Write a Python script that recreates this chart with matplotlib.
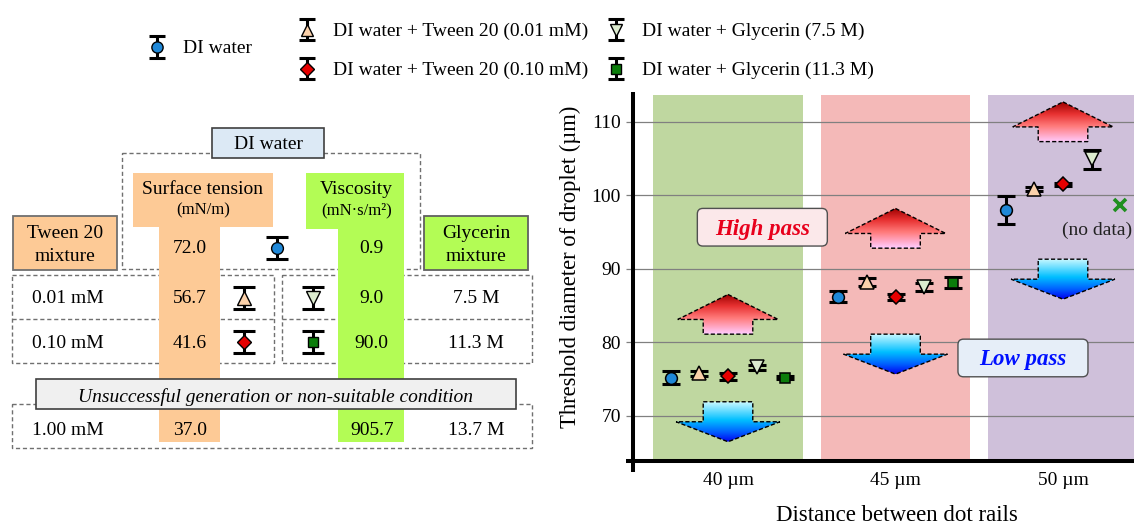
import numpy as np
import matplotlib
matplotlib.use('Agg')
import matplotlib.pyplot as plt
from matplotlib.patches import Rectangle, Polygon, FancyBboxPatch
from matplotlib.colors import LinearSegmentedColormap
from matplotlib.offsetbox import AnnotationBbox, DrawingArea

plt.rcParams['font.family'] = ['Liberation Serif', 'DejaVu Serif']

# ---- data -------------------------------------------------------------
rails = ['40 µm', '45 µm', '50 µm']
names = ['DI water', 'DI water + Tween 20 (0.01 mM)', 'DI water + Tween 20 (0.10 mM)',
         'DI water + Glycerin (7.5 M)', 'DI water + Glycerin (11.3 M)']
di_water = [75.2, 86.2, 98.0]
di_water_err = [0.86, 0.77, 1.85]
tween_001 = [75.8, 88.15, 100.85]
tween_001_err = [0.35, 0.55, 0.32]
tween_010 = [75.4, 86.1, 101.5]
tween_010_err = [0.48, 0.41, 0.18]
glycerin_75 = [76.6, 87.55, 104.9]
glycerin_75_err = [0.36, 0.57, 1.27]
glycerin_113 = [75.2, 88.1, np.nan]
glycerin_113_err = [0.18, 0.75, np.nan]
no_data_y = 98.7          # where the missing 50 um / 11.3 M point is marked

high_pass_tip = [86.5, 98.2, 112.7]   # tip of the "high pass" arrows
low_pass_top = [71.9, 81.1, 91.3]     # top of the "low pass" arrows

# table of the liquids
water_tension, water_visc = '72.0', '0.9'
tween_conc = ['0.01 mM', '0.10 mM', '1.00 mM']
surface_tension = ['56.7', '41.6', '37.0']
viscosity = ['9.0', '90.0', '905.7']
glycerin_conc = ['7.5 M', '11.3 M', '13.7 M']

series = [di_water, tween_001, tween_010, glycerin_75, glycerin_113]
errors = [di_water_err, tween_001_err, tween_010_err, glycerin_75_err, glycerin_113_err]
styles = [('o', '#1f88d8', 8.5), ('^', '#fbd1aa', 9.5), ('D', '#e60000', 7.0),
          ('v', '#dcebcf', 9.5), ('s', '#0b7d0b', 7.0)]
band_colors = ['#bfd7a0', '#f4b9b8', '#cfc0da']

W, H = 1134, 524
fig = plt.figure(figsize=(W / 100, H / 100), dpi=100)

# background axes in pixel units for the table and the legend
bg = fig.add_axes([0, 0, 1, 1])
bg.set_xlim(0, W)
bg.set_ylim(H, 0)
bg.axis('off')

ax = fig.add_axes([633.3 / W, (H - 461.3) / H, (W - 633.3) / W, (461.3 - 92) / H])

# ---- main chart -------------------------------------------------------
x = np.arange(len(rails))
ax.bar(x, 113.63 - 63.8, bottom=63.8, width=0.892, color=band_colors, zorder=0)
ax.yaxis.grid(True, color='#808080', lw=0.9)

offs = np.array([-2, -1, 0, 1, 2]) * 0.171
for i in range(5):
    m, c, ms = styles[i]
    ax.errorbar(x + offs[i], series[i], yerr=errors[i], fmt='none', ecolor='k',
                elinewidth=2.2, capsize=6.7, capthick=2.2, zorder=5)
    ax.plot(x + offs[i], series[i], ls='none', marker=m, ms=ms, mfc=c, mec='k',
            mew=1.1, zorder=6)
ax.plot(x[2] + offs[4], no_data_y, ls='none', marker='x', ms=9, mew=2.6,
        color='#1f8f1f', zorder=6)
ax.text(2.203, 95.27, '(no data)', ha='center', va='center', fontsize=14, color='#222222')

up_cmap = LinearSegmentedColormap.from_list(
    'up', [(0, '#9c0000'), (0.3, '#e83232'), (0.6, '#ff7a7a'), (1, '#ffccff')])
down_cmap = LinearSegmentedColormap.from_list(
    'down', [(0, '#c8f8ff'), (0.45, '#00bfff'), (0.75, '#0060ff'), (1, '#0000f0')])
grad = np.linspace(0, 1, 256).reshape(-1, 1)


def arrow(c, y0, up):
    if up:
        wing, base = y0 - 3.4, y0 - 5.4
        verts = [(c, y0), (c + 0.30, wing), (c + 0.148, wing), (c + 0.148, base),
                 (c - 0.148, base), (c - 0.148, wing), (c - 0.30, wing)]
        top, bot, cmap = y0, base, up_cmap
    else:
        wing, tip = y0 - 2.72, y0 - 5.44
        verts = [(c - 0.148, y0), (c + 0.148, y0), (c + 0.148, wing), (c + 0.31, wing),
                 (c, tip), (c - 0.31, wing), (c - 0.148, wing)]
        top, bot, cmap = y0, tip, down_cmap
    poly = Polygon(verts, closed=True, fc='none', ec='k', lw=1.0,
                   ls=(0, (3, 1.6)), zorder=4)
    ax.add_patch(poly)
    im = ax.imshow(grad, cmap=cmap, aspect='auto', origin='upper',
                   extent=[c - 0.32, c + 0.32, bot, top], zorder=3)
    im.set_clip_path(poly)


for i in range(3):
    arrow(x[i], high_pass_tip[i], True)
    arrow(x[i], low_pass_top[i], False)


def label_box(xc, yc, text, fc, tc):
    da = DrawingArea(93.6, 27.1, 0, 0, clip=False)
    da.add_artist(FancyBboxPatch((0, 0), 93.6, 27.1, boxstyle='round,pad=0,rounding_size=4',
                                 fc=fc, ec='#505050', lw=1.0))
    ab = AnnotationBbox(da, (xc, yc), xycoords='data', frameon=False, pad=0,
                        box_alignment=(0.5, 0.5), zorder=7)
    ax.add_artist(ab)
    ax.text(xc, yc - 0.25, text, ha='center', va='center', fontsize=16.5, color=tc,
            fontweight='bold', fontstyle='italic', zorder=8)


label_box(0.205, 95.65, 'High pass', '#fbe8ea', '#e8001c')
label_box(1.761, 77.86, 'Low pass', '#e6eef8', '#0010ff')

ax.set_xlim(-0.5654, 2.4239)
ax.set_ylim(63.8, 114.05)
ax.set_xticks(x, rails)
ax.set_yticks([70, 80, 90, 100, 110])
ax.tick_params(axis='y', direction='out', length=5, width=0.9, color='#808080', pad=4,
               labelsize=14)
ax.tick_params(axis='x', length=0, pad=8, labelsize=14)
for s in ax.spines.values():
    s.set_visible(False)
ax.plot([0, 0], [-0.029, 1], transform=ax.transAxes, color='k', lw=2.9,
        clip_on=False, solid_capstyle='butt', zorder=9)
ax.plot([-0.0146, 1], [0, 0], transform=ax.transAxes, color='k', lw=2.9,
        clip_on=False, solid_capstyle='butt', zorder=9)
ax.set_ylabel('Threshold diameter of droplet (µm)', fontsize=16.3)
ax.yaxis.set_label_coords(-0.1045, 0.5257)
ax.set_xlabel('Distance between dot rails', fontsize=16.5)
ax.xaxis.set_label_coords(0.5267, -0.118)

# ---- legend (top) -----------------------------------------------------
def sym(px, py, k, half, cap, ms_scale=1.0):
    m, c, ms = styles[k]
    bg.errorbar([px], [py], yerr=half, fmt='none', ecolor='k', elinewidth=2.2,
                capsize=cap, capthick=2.2, zorder=5)
    bg.plot(px, py, ls='none', marker=m, ms=ms * ms_scale, mfc=c, mec='k', mew=1.0,
            zorder=6)


leg_pos = [(156.7, 47), (306.7, 29.5), (306.7, 68.5), (615.5, 29.5), (615.5, 68.5)]
for k, (px, py) in enumerate(leg_pos):
    sym(px, py, k, 10.8, 6.1, 0.95)
    bg.text(px + 26.5, py + 1.5, names[k], ha='left', va='center', fontsize=14)

# ---- table (left) -----------------------------------------------------
orange, green = '#fdca96', '#b3fc55'
dash = dict(fill=False, ec='#707070', lw=1.0, ls=(0, (3, 2)), zorder=1)


def rect(x0, y0, x1, y1, **kw):
    bg.add_patch(Rectangle((x0, y0), x1 - x0, y1 - y0, **kw))


def txt(px, py, s, size=14, **kw):
    bg.text(px, py + 1.5, s, ha='center', va='center', fontsize=size, zorder=4, **kw)


rect(121.7, 152.7, 420, 269.3, **dash)
rect(12.3, 275, 273.8, 362.7, **dash)
rect(282.3, 275, 531.7, 362.7, **dash)
rect(12, 404.3, 532, 448.3, **dash)
bg.plot([12.3, 273.8], [319, 319], color='#707070', lw=1.0, ls=(0, (3, 2)), zorder=1)
bg.plot([282.3, 531.7], [319, 319], color='#707070', lw=1.0, ls=(0, (3, 2)), zorder=1)

rect(133.3, 173.3, 273.1, 226.7, fc=orange, ec='none', zorder=2)
rect(159.3, 226.5, 220, 441.7, fc=orange, ec='none', zorder=2)
rect(306, 173.3, 404, 229.3, fc=green, ec='none', zorder=2)
rect(338.3, 229, 404, 441.7, fc=green, ec='none', zorder=2)

rect(212.3, 128.3, 324.3, 158.3, fc='#dce9f5', ec='#404040', lw=1.2, zorder=3)
rect(12.7, 215.7, 116.7, 270, fc=orange, ec='#707070', lw=1.3, zorder=3)
rect(424.3, 215.7, 528.3, 270, fc=green, ec='#606060', lw=1.3, zorder=3)
rect(35.5, 379.3, 515.5, 409.3, fc='#f0f0f0', ec='#404040', lw=1.2, zorder=3)

txt(268.3, 143.3, 'DI water')
txt(202.7, 188.3, 'Surface tension')
txt(202.7, 209, '(mN/m)', size=12)
txt(356.7, 188.3, 'Viscosity')
txt(356.7, 209, '(mN·s/m²)', size=12)
txt(65, 231.7, 'Tween 20')
txt(65, 255, 'mixture')
txt(476, 231.7, 'Glycerin')
txt(476, 255, 'mixture')
txt(190, 246.7, water_tension)
txt(371.8, 246.7, water_visc)
sym(276.7, 248, 0, 11, 7.8)

row_y = [297.3, 341.7, 429.3]
for r in range(3):
    txt(68.3, row_y[r], tween_conc[r])
    txt(190, row_y[r], surface_tension[r])
    txt(371.8, row_y[r], viscosity[r])
    txt(476, row_y[r], glycerin_conc[r])
for r in range(2):
    sym(244.3, row_y[r] + 0.7, 1 + r, 11, 7.8)
    sym(313.3, row_y[r] + 0.7, 3 + r, 11, 7.8)
txt(275.5, 396, 'Unsuccessful generation or non-suitable condition', fontstyle='italic')

fig.savefig('out.png', dpi=100)
